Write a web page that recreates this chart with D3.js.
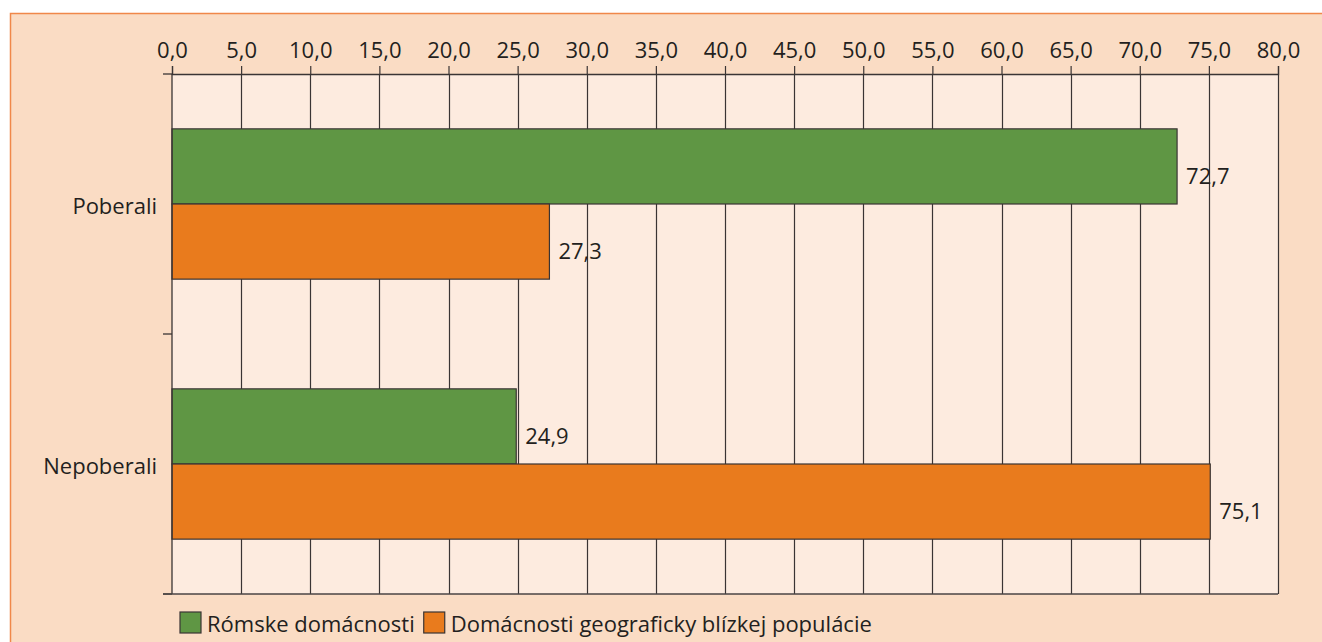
<!DOCTYPE html>
<html>
<head>
<meta charset="utf-8">
<script src="https://cdn.jsdelivr.net/npm/d3@7"></script>
<style>
    html, body { margin: 0; padding: 0; background: #ffffff; }
    svg { display: block; font-family: "Open Sans", "Noto Sans", sans-serif; }
</style>
</head>
<body>
<svg id="chart"></svg>
<script>
// Data
const categories = ['Poberali', 'Nepoberali'];
const seriesNames = ['Rómske domácnosti', 'Domácnosti geograficky blízkej populácie'];
const romaValues = [72.7, 24.9];
const nearbyValues = [27.3, 75.1];
const xTicks = [0, 5, 10, 15, 20, 25, 30, 35, 40, 45, 50, 55, 60, 65, 70, 75, 80];

const colors = ['#5f9644', '#e97b1d'];
const width = 1322, height = 642;
const margin = { top: 74, right: 44, bottom: 48, left: 172 };
const fontSize = '22px';

const svg = d3.select('#chart')
    .attr('width', width)
    .attr('height', height);

// outer panel
svg.append('rect')
    .attr('x', 10.5).attr('y', 13.5)
    .attr('width', width).attr('height', height)
    .attr('fill', '#fadcc4')
    .attr('stroke', '#f0884a')
    .attr('stroke-width', 1.5);

const x = d3.scaleLinear()
    .domain([0, 80])
    .range([margin.left, width - margin.right]);

const y = d3.scaleBand()
    .domain(categories)
    .range([margin.top, height - margin.bottom]);

const ySub = d3.scaleBand()
    .domain(seriesNames)
    .range([0, y.bandwidth()])
    .paddingInner(0)
    .paddingOuter(0.73);

// plot area
svg.append('rect')
    .attr('x', x(0)).attr('y', y.range()[0])
    .attr('width', x(80) - x(0))
    .attr('height', y.range()[1] - y.range()[0])
    .attr('fill', '#fdebdf');

// vertical grid
svg.append('g')
    .selectAll('line')
    .data(xTicks.slice(1))
    .enter().append('line')
    .attr('x1', d => Math.round(x(d)) + 0.5)
    .attr('x2', d => Math.round(x(d)) + 0.5)
    .attr('y1', y.range()[0])
    .attr('y2', y.range()[1])
    .attr('stroke', '#3a3434')
    .attr('stroke-width', 1.2);

// bars
const rows = categories.map((c, i) => ({ cat: c, values: [romaValues[i], nearbyValues[i]] }));

const groups = svg.append('g')
    .selectAll('g')
    .data(rows)
    .enter().append('g')
    .attr('transform', d => `translate(0,${y(d.cat)})`);

groups.selectAll('rect')
    .data(d => d.values.map((v, j) => ({ key: seriesNames[j], value: v, j })))
    .enter().append('rect')
    .attr('x', x(0))
    .attr('y', d => ySub(d.key))
    .attr('width', d => x(d.value) - x(0))
    .attr('height', ySub.bandwidth())
    .attr('fill', d => colors[d.j])
    .attr('stroke', '#3a3434')
    .attr('stroke-width', 1.2);

// value labels sit a little below the bar centre, as in the original
groups.selectAll('text')
    .data(d => d.values.map((v, j) => ({ key: seriesNames[j], value: v })))
    .enter().append('text')
    .attr('x', d => x(d.value) + 9)
    .attr('y', d => ySub(d.key) + ySub.bandwidth() / 2 + 10)
    .attr('dy', '0.35em')
    .attr('fill', '#231f20')
    .style('font-size', fontSize)
    .text(d => d3.format('.1f')(d.value).replace('.', ','));

// top x axis
const xAxis = d3.axisTop(x)
    .tickValues(xTicks)
    .tickSize(8)
    .tickPadding(8)
    .tickFormat(d => d3.format('.1f')(d).replace('.', ','));

const gx = svg.append('g')
    .attr('transform', `translate(0,${margin.top})`)
    .call(xAxis);
gx.select('.domain').attr('stroke', '#3a3434').attr('stroke-width', 1.3);
gx.selectAll('.tick line').attr('stroke', '#3a3434').attr('stroke-width', 1.2);
gx.selectAll('.tick text')
    .attr('fill', '#231f20')
    .style('font-size', fontSize)
    .style('font-family', '"Open Sans", sans-serif');

// left y axis with ticks on band edges
const yEdges = [y.range()[0], y.range()[0] + y.step(), y.range()[1]];
svg.append('line')
    .attr('x1', x(0)).attr('x2', x(0))
    .attr('y1', y.range()[0]).attr('y2', y.range()[1])
    .attr('stroke', '#3a3434').attr('stroke-width', 1.3);
svg.append('g')
    .selectAll('line')
    .data(yEdges)
    .enter().append('line')
    .attr('x1', x(0) - 9).attr('x2', x(0))
    .attr('y1', d => d).attr('y2', d => d)
    .attr('stroke', '#3a3434').attr('stroke-width', 1.3);
// bottom edge
svg.append('line')
    .attr('x1', x(0) - 9).attr('x2', x(80))
    .attr('y1', y.range()[1]).attr('y2', y.range()[1])
    .attr('stroke', '#4a4444').attr('stroke-width', 1.6);

svg.append('g')
    .selectAll('text')
    .data(categories)
    .enter().append('text')
    .attr('x', x(0) - 15)
    .attr('y', d => y(d) + y.bandwidth() / 2 + 2)
    .attr('dy', '0.35em')
    .attr('text-anchor', 'end')
    .attr('fill', '#231f20')
    .style('font-size', fontSize)
    .text(d => d);

// legend
const legend = svg.append('g').attr('transform', 'translate(180,612)');
let lx = 0;
seriesNames.forEach((name, i) => {
    const item = legend.append('g').attr('transform', `translate(${lx},0)`);
    item.append('rect')
        .attr('width', 21).attr('height', 21)
        .attr('fill', colors[i])
        .attr('stroke', '#3a3434').attr('stroke-width', 1.2);
    const t = item.append('text')
        .attr('x', 27).attr('y', 20)
        .attr('fill', '#231f20')
        .style('font-size', fontSize)
        .text(name);
    lx += 27 + t.node().getComputedTextLength() + 9;
});
</script>
</body>
</html>
